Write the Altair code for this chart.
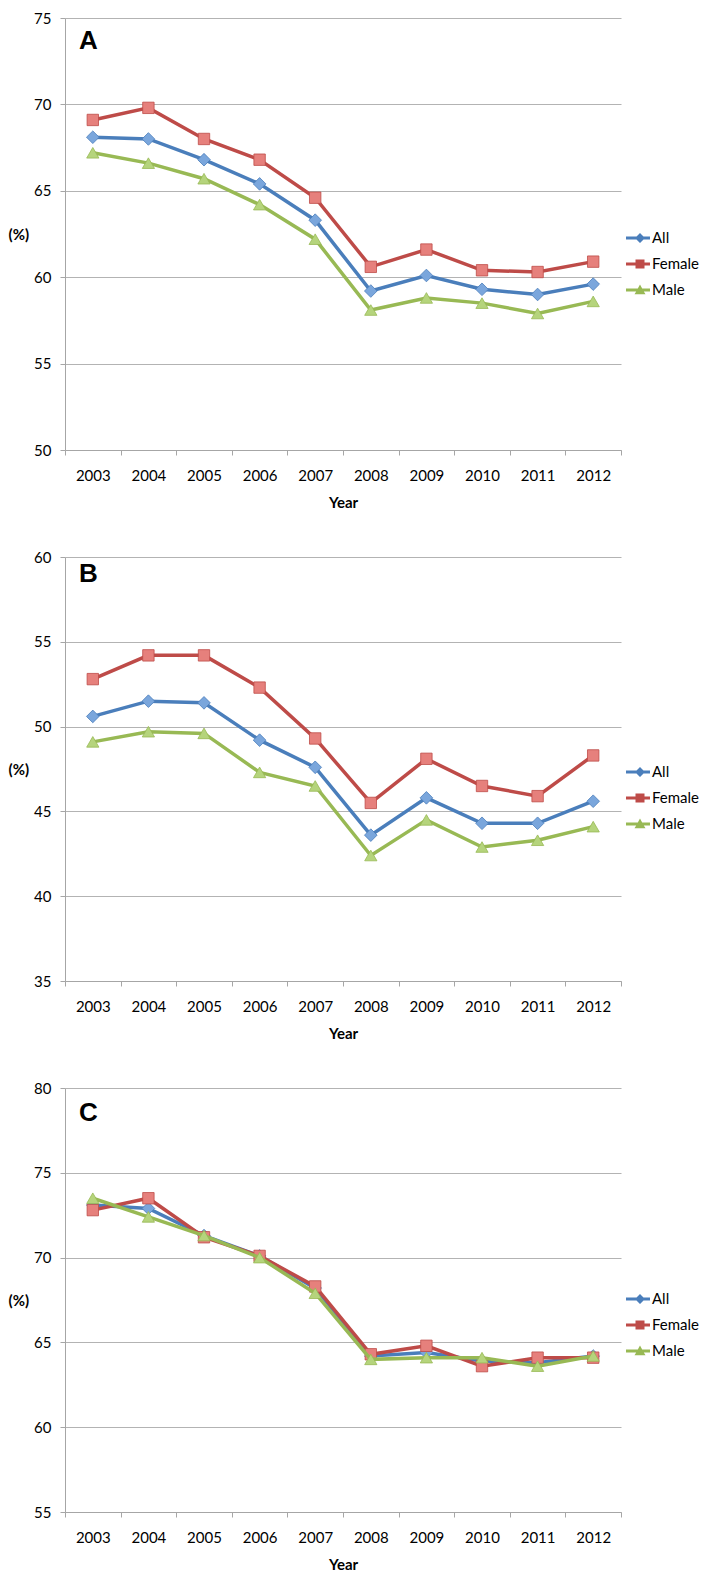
import altair as alt
import pandas as pd

years = [str(y) for y in range(2003, 2013)]
series = ["All", "Female", "Male"]

# Panel A
a_all = [68.1, 68.0, 66.8, 65.4, 63.3, 59.2, 60.1, 59.3, 59.0, 59.6]
a_female = [69.1, 69.8, 68.0, 66.8, 64.6, 60.6, 61.6, 60.4, 60.3, 60.9]
a_male = [67.2, 66.6, 65.7, 64.2, 62.2, 58.1, 58.8, 58.5, 57.9, 58.6]

# Panel B
b_all = [50.6, 51.5, 51.4, 49.2, 47.6, 43.6, 45.8, 44.3, 44.3, 45.6]
b_female = [52.8, 54.2, 54.2, 52.3, 49.3, 45.5, 48.1, 46.5, 45.9, 48.3]
b_male = [49.1, 49.7, 49.6, 47.3, 46.5, 42.4, 44.5, 42.9, 43.3, 44.1]

# Panel C
c_all = [73.1, 72.9, 71.3, 70.1, 68.2, 64.2, 64.4, 63.9, 63.8, 64.2]
c_female = [72.8, 73.5, 71.2, 70.1, 68.3, 64.3, 64.8, 63.6, 64.1, 64.1]
c_male = [73.5, 72.4, 71.3, 70.0, 67.9, 64.0, 64.1, 64.1, 63.6, 64.2]

line_colors = ["#4A7EBB", "#BE4B48", "#98B954"]
marker_fill = ["#7AA6DC", "#E6807C", "#B5D47C"]
marker_shapes = ["diamond", "square", "triangle-up"]
marker_sizes = [160, 130, 150]
legend_paths = [
    "M-1.4,-0.15H-0.35L0,-0.5L0.35,-0.15H1V0.15H0.35L0,0.5L-0.35,0.15H-1.4Z",
    "M-1.4,-0.15H-0.45V-0.45H0.45V-0.15H1V0.15H0.45V0.45H-0.45V0.15H-1.4Z",
    "M-1.4,-0.15H-0.22L0,-0.55L0.22,-0.15H1V0.15H0.38L0.55,0.42H-0.55L-0.38,0.15H-1.4Z",
]

FONT = "Lato"


def make_df(vals_all, vals_f, vals_m):
    rows = []
    for s, vals in zip(series, [vals_all, vals_f, vals_m]):
        for yr, v in zip(years, vals):
            rows.append({"Year": yr, "series": s, "value": v})
    return pd.DataFrame(rows)


def panel(letter, df, lo, hi, h, leg_y, letter_y):
    x = alt.X(
        "Year:N",
        sort=years,
        scale=alt.Scale(type="band", paddingInner=0, paddingOuter=0),
        axis=alt.Axis(
            title="Year",
            labelAngle=0,
            tickBand="extent",
            grid=False,
            tickSize=5,
            labelPadding=13,
            titlePadding=12,
        ),
    )
    y = alt.Y(
        "value:Q",
        scale=alt.Scale(domain=[lo, hi], nice=False, zero=False),
        axis=alt.Axis(
            title="(%)",
            values=list(range(lo, hi + 1, 5)),
            titleAngle=0,
            titleAlign="right",
            titleBaseline="middle",
            titlePadding=5,
            tickSize=5,
            labelPadding=9,
            grid=True,
        ),
    )
    base = alt.Chart(df)
    layers = []
    for s, lc, mf, shp, sz in zip(series, line_colors, marker_fill, marker_shapes, marker_sizes):
        sub = base.transform_filter(alt.datum.series == s)
        layers.append(
            sub.mark_line(strokeWidth=3.5, color=lc).encode(x=x, y=y)
        )
        layers.append(
            sub.mark_point(
                shape=shp, filled=True, fill=mf, stroke=lc, strokeWidth=0.8,
                size=sz, opacity=1,
            ).encode(x=x, y=y)
        )
    leg = alt.Legend(
        title=None,
        orient="none",
        legendX=565,
        legendY=leg_y,
        symbolSize=400,
        symbolOpacity=1,
        symbolStrokeWidth=0,
        labelFont=FONT,
        labelFontSize=15,
        labelColor="black",
        labelOffset=2,
        rowPadding=8,
        padding=0,
    )
    legend_layer = base.mark_point(filled=True, opacity=0).encode(
        x=x,
        y=y,
        color=alt.Color("series:N", scale=alt.Scale(domain=series, range=line_colors), legend=leg),
        shape=alt.Shape("series:N", scale=alt.Scale(domain=series, range=legend_paths), legend=leg),
    )
    layers.append(legend_layer)
    label_layer = alt.Chart(pd.DataFrame({"panel": [letter]})).mark_text(
        align="left",
        baseline="middle",
        font="Liberation Sans",
        fontSize=26,
        fontWeight="bold",
        color="black",
    ).encode(text="panel:N", x=alt.value(14), y=alt.value(letter_y))
    layers.append(label_layer)
    return alt.layer(*layers).properties(width=556, height=h)


pa = panel("A", make_df(a_all, a_female, a_male), 50, 75, 432, 210, 23)
pb = panel("B", make_df(b_all, b_female, b_male), 35, 60, 424, 205, 17)
pc = panel("C", make_df(c_all, c_female, c_male), 55, 80, 424, 201, 25)

chart = (
    alt.vconcat(pa, pb, pc, spacing=40)
    .resolve_scale(color="independent", shape="independent", y="independent")
    .resolve_legend(color="independent", shape="independent")
    .properties(padding={"top": 3, "left": 0, "right": 0, "bottom": 0}, background="white")
    .configure_view(stroke=None)
    .configure_axis(
        labelFont=FONT,
        labelFontSize=15,
        labelColor="black",
        titleFont=FONT,
        titleFontSize=15,
        titleFontWeight="bold",
        titleColor="black",
        domainColor="#a6a6a6",
        tickColor="#a6a6a6",
        gridColor="#b3b3b3",
        domainWidth=1,
        tickWidth=1,
        gridWidth=1,
    )
)

chart.save("out.html", embed_options={"renderer": "svg", "actions": False})
